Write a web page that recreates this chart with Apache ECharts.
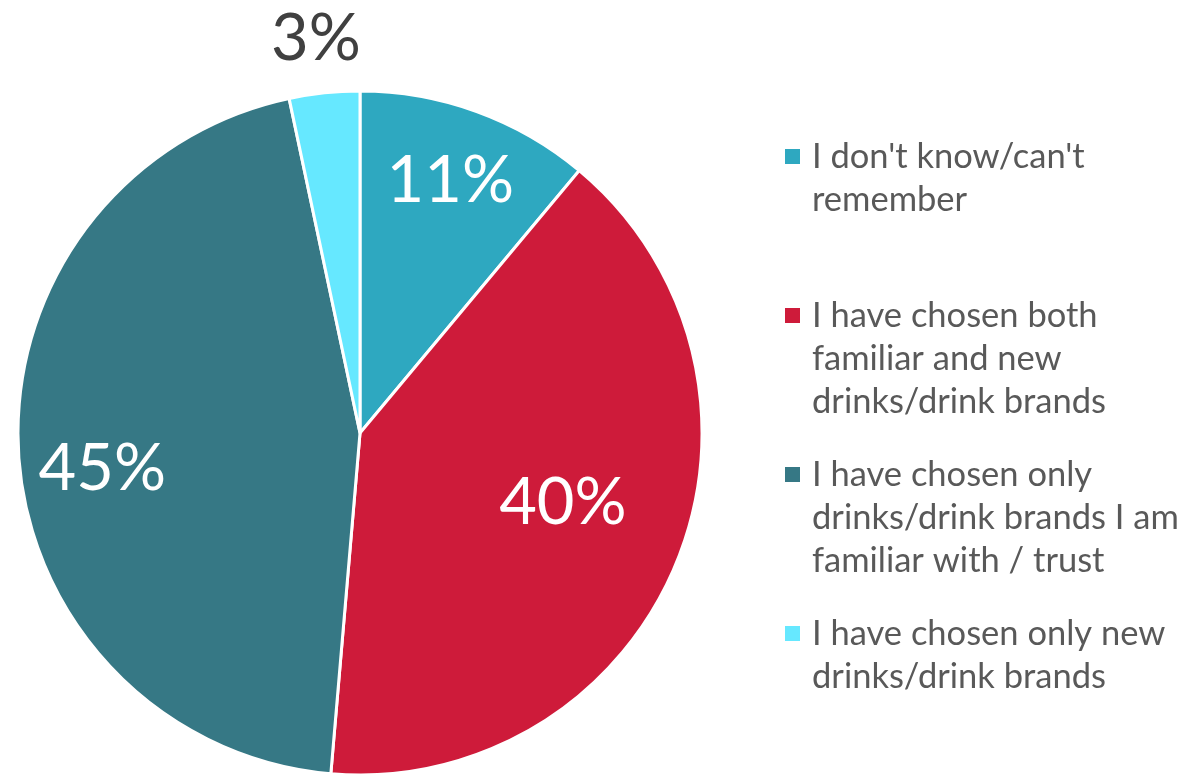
<!DOCTYPE html>
<html>
<head>
<meta charset="utf-8">
<script src="https://cdn.jsdelivr.net/npm/echarts@6/dist/echarts.min.js"></script>
<style>html,body{margin:0;padding:0;background:#fff;}#c{width:1184px;height:774px;}</style>
</head>
<body>
<div id="c"></div>
<script>
var categories = ["I don't know/can't remember", "I have chosen both familiar and new drinks/drink brands", "I have chosen only drinks/drink brands I am familiar with / trust", "I have chosen only new drinks/drink brands"];
var legendLines = [["I don't know/can't", "remember"], ["I have chosen both", "familiar and new", "drinks/drink brands"], ["I have chosen only", "drinks/drink brands I am", "familiar with / trust"], ["I have chosen only new", "drinks/drink brands"]];
var values = [11, 40, 45, 3.3];
var colors = ['#2EA8C0', '#CE1B3A', '#367885', '#66E8FF'];
var labelColors = ['#ffffff', '#ffffff', '#ffffff', '#404040'];
var labelShift = [[31, -88], [42, 4], [-84, 25], [-26, -221]];

var FONT = 'Lato';
var rich = {
  t: {fontFamily: FONT, fontSize: 34.5, color: '#595959', lineHeight: 43},
  gap: {width: 12, lineHeight: 43},
  pad: {width: 27, lineHeight: 43}
};
colors.forEach(function (c, i) {
  rich['sq' + i] = {width: 15, height: 15, backgroundColor: c, lineHeight: 43};
});

var chart = echarts.init(document.getElementById('c'));
chart.setOption({
  animation: false,
  color: colors,
  legend: {
    orient: 'vertical',
    left: 774,
    top: 134,
    itemWidth: 0,
    itemHeight: 0,
    itemGap: 38,
    selectedMode: false,
    data: categories,
    formatter: function (name) {
      var i = categories.indexOf(name);
      var lines = legendLines[i].slice();
      while (lines.length < 3) lines.push(' ');
      return lines.map(function (l, k) {
        return (k === 0 ? '{sq' + i + '| }{gap| }' : '{pad| }') + '{t|' + l + '}';
      }).join('\n');
    },
    textStyle: {rich: rich}
  },
  series: [{
    type: 'pie',
    center: [360, 433],
    radius: 342,
    startAngle: 90,
    clockwise: true,
    data: values.map(function (v, i) {
      return {name: categories[i], value: v, label: {color: labelColors[i]}};
    }),
    itemStyle: {borderColor: '#ffffff', borderWidth: 3},
    label: {
      show: true,
      position: 'inside',
      formatter: function (p) { return Math.round(p.value) + '%'; },
      fontFamily: FONT,
      fontSize: 65
    },
    labelLine: {show: false},
    labelLayout: function (p) {
      var s = labelShift[p.dataIndex];
      return {dx: s[0], dy: s[1]};
    },
    emphasis: {disabled: true}
  }]
});
</script>
</body>
</html>
